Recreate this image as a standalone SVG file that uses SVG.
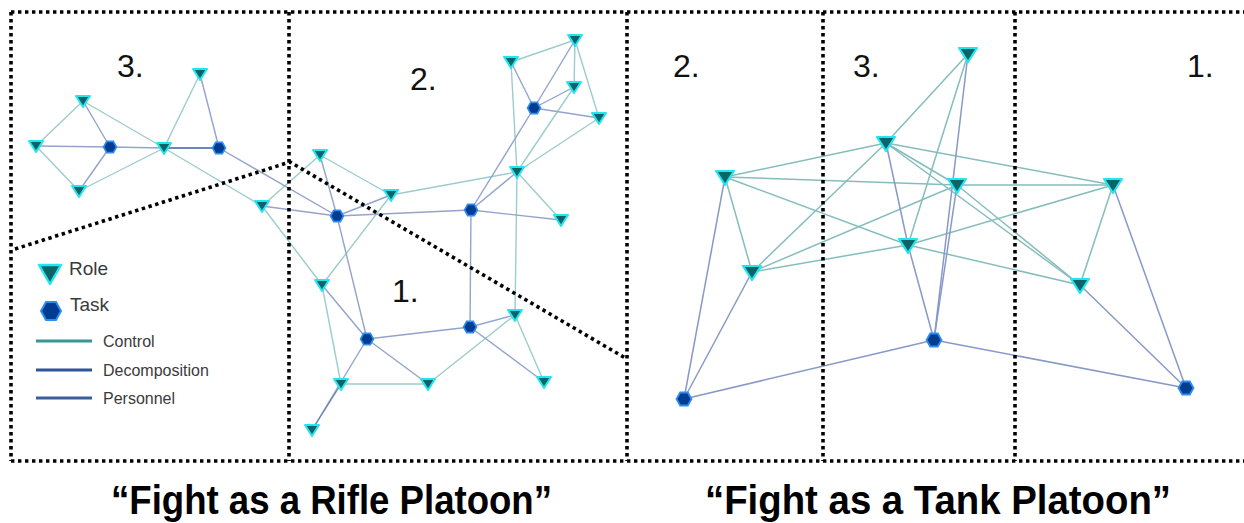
<svg xmlns="http://www.w3.org/2000/svg" xmlns:xlink="http://www.w3.org/1999/xlink" width="1244" height="523" viewBox="0 0 1244 523">
<style>
.frame{fill:none;stroke:#000;stroke-width:3.6;stroke-dasharray:3.4 3.6}
.ctl{stroke:#9ccccc;stroke-width:1.4;fill:none}
.dec{stroke:#93a3cc;stroke-width:1.4;fill:none}
.rc{stroke:#85bdbd;stroke-width:1.5;fill:none}
.rd{stroke:#8799c6;stroke-width:1.5;fill:none}
.num{font-family:"Liberation Sans",Arial,sans-serif;font-size:32px;fill:#111}
.leg{font-family:"Liberation Sans",Arial,sans-serif;fill:#3a3a3a}
.title{font-family:"Liberation Sans",Arial,sans-serif;font-weight:bold;font-size:41px;fill:#000}
</style>
<defs>
<polygon id="tri" points="-7,-5 7,-5 0,6" fill="#0c6468" stroke="#22e6ee" stroke-width="2" stroke-linejoin="round"/>
<polygon id="tri2" points="-9,-6 9,-6 0,8" fill="#0c6468" stroke="#22e6ee" stroke-width="2.2" stroke-linejoin="round"/>
<polygon id="hex" points="6.5,0 3.3,5.6 -3.3,5.6 -6.5,0 -3.3,-5.6 3.3,-5.6" fill="#003c8f" stroke="#2f8cf0" stroke-width="1.6"/>
<polygon id="hex2" points="7.5,0 3.8,6.5 -3.8,6.5 -7.5,0 -3.8,-6.5 3.8,-6.5" fill="#003c8f" stroke="#2f8cf0" stroke-width="1.8"/>
</defs>
<rect width="1244" height="523" fill="#fff"/>

<g id="connectors">
<g class="ctl">
<line x1="83" y1="101" x2="36" y2="146"/>
<line x1="83" y1="101" x2="164" y2="148"/>
<line x1="36" y1="146" x2="79" y2="191"/>
<line x1="79" y1="191" x2="164" y2="148"/>
<line x1="164" y1="148" x2="200" y2="74"/>
<line x1="164" y1="148" x2="262" y2="206"/>
<line x1="262" y1="206" x2="320" y2="155"/>
<line x1="262" y1="206" x2="322" y2="285"/>
<line x1="320" y1="155" x2="391" y2="195"/>
<line x1="391" y1="195" x2="322" y2="285"/>
<line x1="391" y1="195" x2="517" y2="172"/>
<line x1="517" y1="172" x2="515" y2="315"/>
<line x1="517" y1="172" x2="574" y2="87"/>
<line x1="517" y1="172" x2="599" y2="118"/>
<line x1="517" y1="172" x2="561" y2="220"/>
<line x1="511" y1="62" x2="575" y2="40"/>
<line x1="511" y1="62" x2="517" y2="172"/>
<line x1="575" y1="40" x2="574" y2="87"/>
<line x1="575" y1="40" x2="599" y2="118"/>
<line x1="322" y1="285" x2="341" y2="384"/>
<line x1="341" y1="384" x2="428" y2="384"/>
<line x1="428" y1="384" x2="515" y2="315"/>
<line x1="515" y1="315" x2="544" y2="382"/>
</g>
<g class="dec">
<line x1="83" y1="101" x2="110" y2="147"/>
<line x1="36" y1="146" x2="110" y2="147"/>
<line x1="110" y1="147" x2="79" y2="191"/>
<line x1="110" y1="147" x2="164" y2="148"/>
<line x1="200" y1="74" x2="219" y2="148"/>
<line x1="164" y1="148" x2="219" y2="148" stroke="#6f84b8" stroke-width="1.8"/>
<line x1="219" y1="148" x2="337" y2="216"/>
<line x1="262" y1="206" x2="337" y2="216"/>
<line x1="320" y1="155" x2="337" y2="216"/>
<line x1="391" y1="195" x2="337" y2="216"/>
<line x1="337" y1="216" x2="471" y2="210"/>
<line x1="337" y1="216" x2="367" y2="339"/>
<line x1="471" y1="210" x2="534" y2="108"/>
<line x1="471" y1="210" x2="517" y2="172"/>
<line x1="471" y1="210" x2="561" y2="220"/>
<line x1="471" y1="210" x2="470" y2="327"/>
<line x1="511" y1="62" x2="534" y2="108"/>
<line x1="575" y1="40" x2="534" y2="108"/>
<line x1="534" y1="108" x2="574" y2="87"/>
<line x1="534" y1="108" x2="599" y2="118"/>
<line x1="322" y1="285" x2="367" y2="339"/>
<line x1="367" y1="339" x2="470" y2="327"/>
<line x1="367" y1="339" x2="312" y2="430"/>
<line x1="341" y1="384" x2="312" y2="430" stroke="#6f84b8"/>
<line x1="367" y1="339" x2="428" y2="384"/>
<line x1="470" y1="327" x2="515" y2="315"/>
<line x1="470" y1="327" x2="544" y2="382"/>
</g>
<g class="rc">
<line x1="725" y1="177" x2="886" y2="143"/>
<line x1="725" y1="177" x2="957" y2="185"/>
<line x1="725" y1="177" x2="908" y2="245"/>
<line x1="725" y1="177" x2="752" y2="272"/>
<line x1="886" y1="143" x2="968" y2="54"/>
<line x1="886" y1="143" x2="752" y2="272"/>
<line x1="886" y1="143" x2="957" y2="185"/>
<line x1="886" y1="143" x2="1113" y2="185"/>
<line x1="886" y1="143" x2="1080" y2="285"/>
<line x1="968" y1="54" x2="908" y2="245"/>
<line x1="957" y1="185" x2="752" y2="272"/>
<line x1="957" y1="185" x2="1113" y2="185"/>
<line x1="957" y1="185" x2="1080" y2="285"/>
<line x1="752" y1="272" x2="908" y2="245"/>
<line x1="908" y1="245" x2="1113" y2="185"/>
<line x1="908" y1="245" x2="1080" y2="285"/>
<line x1="1113" y1="185" x2="1080" y2="285"/>
</g>
<g class="rd">
<line x1="725" y1="177" x2="684" y2="399"/>
<line x1="886" y1="143" x2="908" y2="245"/>
<line x1="968" y1="54" x2="934" y2="340"/>
<line x1="957" y1="185" x2="934" y2="340"/>
<line x1="752" y1="272" x2="684" y2="399"/>
<line x1="908" y1="245" x2="934" y2="340"/>
<line x1="934" y1="340" x2="684" y2="399"/>
<line x1="934" y1="340" x2="1186" y2="388"/>
<line x1="1113" y1="185" x2="1186" y2="388"/>
<line x1="1080" y1="285" x2="1186" y2="388"/>
</g>
</g>

<g id="frame">
<line class="frame" x1="11" y1="12" x2="1244" y2="12"/>
<line class="frame" x1="11" y1="461" x2="1244" y2="461"/>
<line class="frame" x1="11" y1="12" x2="11" y2="461"/>
<line class="frame" x1="289" y1="12" x2="289" y2="461"/>
<line class="frame" x1="627" y1="12" x2="627" y2="461"/>
<line class="frame" x1="823" y1="12" x2="823" y2="461"/>
<line class="frame" x1="1015" y1="12" x2="1015" y2="461"/>
<polyline class="frame" points="15,249 290,162 627,359"/>
</g>

<g id="labels">
<text class="num" x="117" y="77">3.</text>
<text class="num" x="410" y="90">2.</text>
<text class="num" x="392" y="302">1.</text>
<text class="num" x="673" y="77">2.</text>
<text class="num" x="853" y="77">3.</text>
<text class="num" x="1187" y="77">1.</text>
</g>

<g id="legend">
<polygon points="39,265 61,265 50,284" fill="#0c6468" stroke="#22e6ee" stroke-width="2.4" stroke-linejoin="round"/>
<text class="leg" x="69" y="275" font-size="19">Role</text>
<polygon points="61,311 56,320 46,320 41,311 46,302 56,302" fill="#003c8f" stroke="#2f8cf0" stroke-width="2"/>
<text class="leg" x="70" y="311" font-size="19">Task</text>
<line x1="36" y1="341" x2="92" y2="341" stroke="#3a9696" stroke-width="3"/>
<text class="leg" x="103" y="347" font-size="16">Control</text>
<line x1="36" y1="370" x2="92" y2="370" stroke="#2f5597" stroke-width="3"/>
<text class="leg" x="103" y="376" font-size="16">Decomposition</text>
<line x1="36" y1="398" x2="92" y2="398" stroke="#3b5c9e" stroke-width="3"/>
<text class="leg" x="103" y="404" font-size="16">Personnel</text>
</g>

<g id="R1"><use xlink:href="#tri" x="83" y="101"/></g>
<g id="R2"><use xlink:href="#tri" x="36" y="146"/></g>
<g id="T1"><use xlink:href="#hex" x="110" y="147"/></g>
<g id="R3"><use xlink:href="#tri" x="79" y="191"/></g>
<g id="R4"><use xlink:href="#tri" x="164" y="148"/></g>
<g id="R5"><use xlink:href="#tri" x="200" y="74"/></g>
<g id="T2"><use xlink:href="#hex" x="219" y="148"/></g>
<g id="R6"><use xlink:href="#tri" x="262" y="206"/></g>
<g id="R7"><use xlink:href="#tri" x="320" y="155"/></g>
<g id="R8"><use xlink:href="#tri" x="391" y="195"/></g>
<g id="T3"><use xlink:href="#hex" x="337" y="216"/></g>
<g id="T4"><use xlink:href="#hex" x="471" y="210"/></g>
<g id="R9"><use xlink:href="#tri" x="511" y="62"/></g>
<g id="R10"><use xlink:href="#tri" x="575" y="40"/></g>
<g id="R11"><use xlink:href="#tri" x="574" y="87"/></g>
<g id="T5"><use xlink:href="#hex" x="534" y="108"/></g>
<g id="R12"><use xlink:href="#tri" x="599" y="118"/></g>
<g id="R13"><use xlink:href="#tri" x="517" y="172"/></g>
<g id="R14"><use xlink:href="#tri" x="561" y="220"/></g>
<g id="R15"><use xlink:href="#tri" x="322" y="285"/></g>
<g id="T6"><use xlink:href="#hex" x="367" y="339"/></g>
<g id="T7"><use xlink:href="#hex" x="470" y="327"/></g>
<g id="R16"><use xlink:href="#tri" x="515" y="315"/></g>
<g id="R17"><use xlink:href="#tri" x="341" y="384"/></g>
<g id="R18"><use xlink:href="#tri" x="428" y="384"/></g>
<g id="R19"><use xlink:href="#tri" x="544" y="382"/></g>
<g id="R20"><use xlink:href="#tri" x="312" y="430"/></g>

<g id="A"><use xlink:href="#tri2" x="725" y="177"/></g>
<g id="B"><use xlink:href="#tri2" x="886" y="143"/></g>
<g id="C"><use xlink:href="#tri2" x="968" y="54"/></g>
<g id="D"><use xlink:href="#tri2" x="957" y="185"/></g>
<g id="E"><use xlink:href="#tri2" x="1113" y="185"/></g>
<g id="F"><use xlink:href="#tri2" x="752" y="272"/></g>
<g id="G"><use xlink:href="#tri2" x="908" y="245"/></g>
<g id="H"><use xlink:href="#hex2" x="934" y="340"/></g>
<g id="I"><use xlink:href="#hex2" x="684" y="399"/></g>
<g id="J"><use xlink:href="#tri2" x="1080" y="285"/></g>
<g id="K"><use xlink:href="#hex2" x="1186" y="388"/></g>

<g id="titles">
<text class="title" x="111" y="514" textLength="441" lengthAdjust="spacingAndGlyphs">“Fight as a Rifle Platoon”</text>
<text class="title" x="705" y="514" textLength="466" lengthAdjust="spacingAndGlyphs">“Fight as a Tank Platoon”</text>
</g>
</svg>
